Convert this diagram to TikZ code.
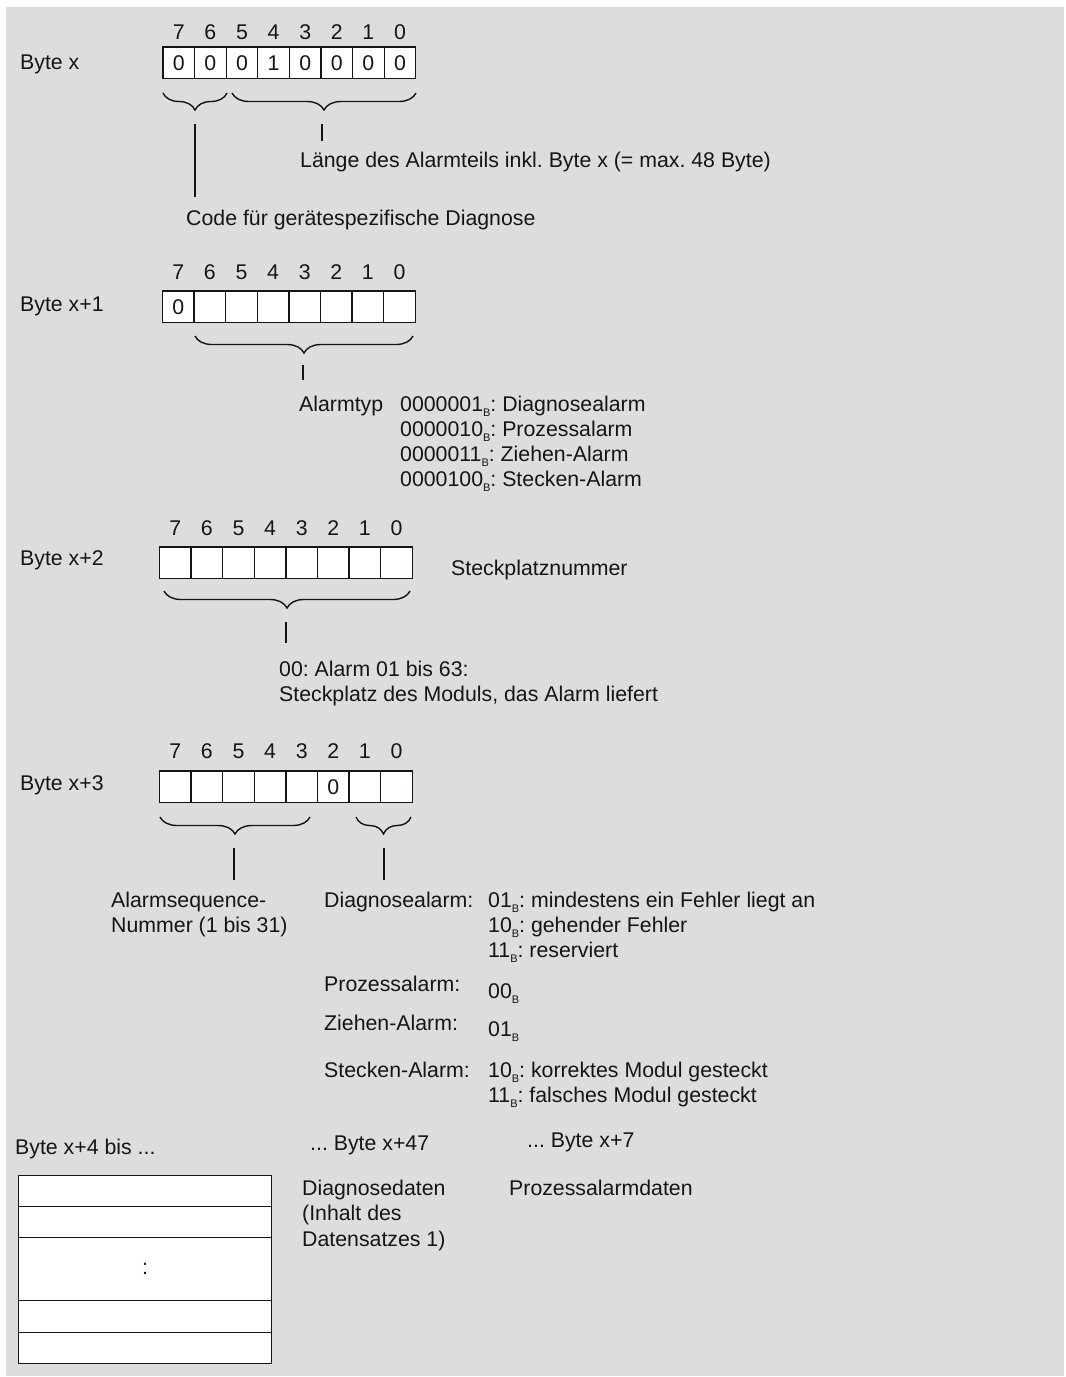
\documentclass[tikz,border=0pt]{standalone}
\usepackage{fontspec}
\setmainfont{Liberation Sans}
\frenchspacing
\usetikzlibrary{decorations.pathreplacing}
\definecolor{panel}{HTML}{DCDEDD}
\definecolor{ink}{HTML}{151515}
% small subscript "B" marking binary values
\newcommand\subB{\raisebox{-5pt}{\fontsize{11}{11}\selectfont B}}
\tikzset{
  txt/.style={anchor=base west, inner sep=0pt, text=ink, font=\fontsize{21.3}{25}\selectfont},
  bitnum/.style={anchor=center, inner sep=0pt, text=ink, font=\fontsize{21.3}{25}\selectfont},
  cell/.style={draw=ink, fill=white, line width=1.3pt, minimum width=31.6pt,
    minimum height=31.5pt, inner sep=0pt, text=ink, font=\fontsize{21.3}{25}\selectfont},
  rowbox/.style={draw=ink, fill=white, line width=1.3pt, minimum width=253pt,
    inner sep=0pt, anchor=north west, text=ink, font=\fontsize{21.3}{25}\selectfont},
  bracket/.style={draw=ink, line width=1.4pt, decorate, decoration={brace, amplitude=17pt, mirror}},
  lead/.style={draw=ink, line width=1.4pt},
}
% one byte: name, left x, top y, y of the bit numbers, cell contents (bit 7 first)
\newcommand\byterow[5]{%
  \foreach \v [count=\k from 0] in {#5} {
    \pgfmathtruncatemacro\bitno{7-\k}
    \node[cell] (#1-\k) at ({#2+(\k+0.5)*31.6},{#3+15.75}) {\v};
    \node[bitnum] (#1-n\k) at ({#2+(\k+0.5)*31.6},{#4}) {\bitno};
  }}
\begin{document}
\begin{tikzpicture}[x=1pt,y=-1pt]
\useasboundingbox (0,0) rectangle (1066,1377);
\fill[white] (0,0) rectangle (1066,1377);
\fill[panel] (6,7) rectangle (1064,1376);

% ---------- Byte x ----------
\node[txt] (lb0) at (20,69.5) {Byte x};
\byterow{bx}{163}{47}{32}{0,0,0,1,0,0,0,0}
\draw[bracket] (163,93) -- (227,93);
\draw[bracket] (232,93) -- (416,93);
\coordinate (t0a) at (195,124); \coordinate (e0a) at (195,197);
\coordinate (t0b) at (322,124); \coordinate (e0b) at (322,141);
\draw[lead] (t0a) -- (e0a);
\draw[lead] (t0b) -- (e0b);
\node[txt] (len) at (300,167.5) {Länge des Alarmteils inkl. Byte x (= max. 48 Byte)};
\node[txt] (code) at (186,225.5) {Code für gerätespezifische Diagnose};

% ---------- Byte x+1 ----------
\node[txt] (lb1) at (20,311.5) {Byte x+1};
\byterow{ba}{162.5}{291}{272}{0,{},{},{},{},{},{},{}}
\draw[bracket] (195,336) -- (413,336);
\coordinate (t1) at (303,365); \coordinate (e1) at (303,380);
\draw[lead] (t1) -- (e1);
\node[txt] (atyp) at (299,411.5) {Alarmtyp};
\node[txt] (ty1) at (400,411.5) {0000001\subB: Diagnosealarm};
\node[txt] (ty2) at (400,436.5) {0000010\subB: Prozessalarm};
\node[txt] (ty3) at (400,461.5) {0000011\subB: Ziehen-Alarm};
\node[txt] (ty4) at (400,486.5) {0000100\subB: Stecken-Alarm};

% ---------- Byte x+2 ----------
\node[txt] (lb2) at (20,565.5) {Byte x+2};
\byterow{bb}{159.5}{547}{528}{{},{},{},{},{},{},{},{}}
\node[txt] (slotno) at (451,575.5) {Steckplatznummer};
\draw[bracket] (164,591) -- (410,591);
\coordinate (t2) at (286,622); \coordinate (e2) at (286,643);
\draw[lead] (t2) -- (e2);
\node[txt] (slot1) at (279,676.5) {00: Alarm 01 bis 63:};
\node[txt] (slot2) at (279,701.5) {Steckplatz des Moduls, das Alarm liefert};

% ---------- Byte x+3 ----------
\node[txt] (lb3) at (20,790.5) {Byte x+3};
\byterow{bc}{159.5}{771}{751}{{},{},{},{},{},0,{},{}}
\draw[bracket] (160,817) -- (310,817);
\draw[bracket] (356,817) -- (411,817);
\coordinate (t3a) at (234,848); \coordinate (e3a) at (234,880);
\coordinate (t3b) at (384,848); \coordinate (e3b) at (384,880);
\draw[lead] (t3a) -- (e3a);
\draw[lead] (t3b) -- (e3b);
\node[txt] (seq1) at (111,907.5) {Alarmsequence-};
\node[txt] (seq2) at (111,932.5) {Nummer (1 bis 31)};
\node[txt] (kd) at (324,907.5) {Diagnosealarm:};
\node[txt] (kd1) at (488,907.5) {01\subB: mindestens ein Fehler liegt an};
\node[txt] (kd2) at (488,932.5) {10\subB: gehender Fehler};
\node[txt] (kd3) at (488,957.5) {11\subB: reserviert};
\node[txt] (kp) at (324,991.5) {Prozessalarm:};
\node[txt] (kp1) at (488,998.5) {00\subB};
\node[txt] (kz) at (324,1030.5) {Ziehen-Alarm:};
\node[txt] (kz1) at (488,1036.5) {01\subB};
\node[txt] (ks) at (324,1077.5) {Stecken-Alarm:};
\node[txt] (ks1) at (488,1077.5) {10\subB: korrektes Modul gesteckt};
\node[txt] (ks2) at (488,1102.5) {11\subB: falsches Modul gesteckt};

% ---------- Byte x+4 ... ----------
\node[txt] (lb4) at (15,1154.5) {Byte x+4 bis ...};
\node[txt] (end47) at (310,1150.5) {... Byte x+47};
\node[txt] (end7) at (527,1147.5) {... Byte x+7};
\node[rowbox, minimum height=31pt] (r1) at (18,1175) {};
\node[rowbox, minimum height=31pt] (r2) at (18,1206) {};
\node[rowbox, minimum height=63pt] (r3) at (18,1237) {:};
\node[rowbox, minimum height=32pt] (r4) at (18,1300) {};
\node[rowbox, minimum height=31pt] (r5) at (18,1332) {};
\node[txt] (dd1) at (302,1195.5) {Diagnosedaten};
\node[txt] (dd2) at (302,1220.5) {(Inhalt des};
\node[txt] (dd3) at (302,1246.5) {Datensatzes 1)};
\node[txt] (pd) at (509,1195.5) {Prozessalarmdaten};
\end{tikzpicture}
\end{document}
